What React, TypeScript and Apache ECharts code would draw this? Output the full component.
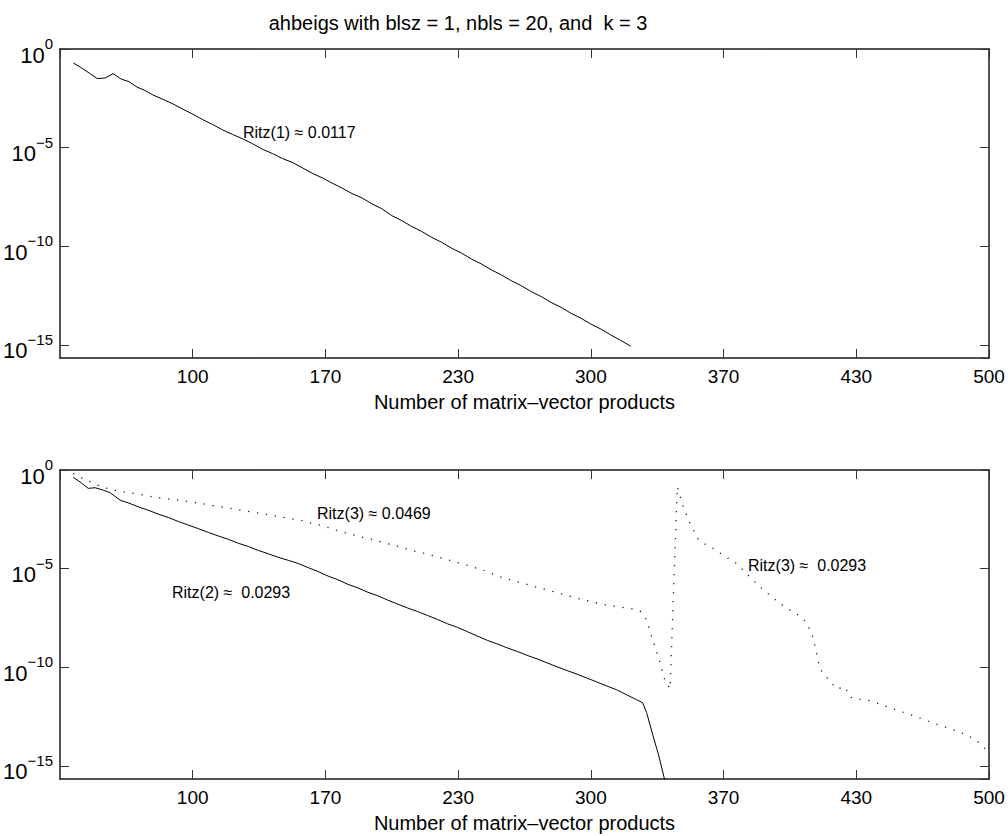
import React, { useEffect, useRef } from "react";
import * as echarts from "echarts";

// ---------------- data (residual norms, stored as log10 exponents) ----------------
const ritz1X = [40, 44, 48, 52, 56, 60, 64, 68, 72, 76, 80, 85, 90, 95, 100, 105, 110, 115, 120, 125, 130, 135, 140, 145, 150, 155, 160, 165, 170, 175, 180, 185, 190, 195, 200, 205, 210, 215, 220, 225, 230, 235, 240, 245, 250, 255, 260, 265, 270, 275, 280, 285, 290, 295, 300, 305, 310, 315, 320];
const ritz1Exp = [-0.71, -0.95, -1.22, -1.5, -1.47, -1.25, -1.52, -1.66, -1.93, -2.1, -2.33, -2.55, -2.78, -3.05, -3.3, -3.58, -3.83, -4.1, -4.33, -4.55, -4.8, -5.08, -5.3, -5.55, -5.75, -6.02, -6.3, -6.53, -6.8, -7.05, -7.33, -7.55, -7.85, -8.1, -8.45, -8.7, -9.0, -9.25, -9.55, -9.8, -10.1, -10.35, -10.65, -10.9, -11.2, -11.45, -11.75, -12.0, -12.3, -12.55, -12.85, -13.1, -13.4, -13.65, -13.95, -14.2, -14.5, -14.78, -15.07];

const ritz2X = [40, 44, 47.5, 51, 55, 58.5, 63.5, 68, 73, 78, 83, 88, 93, 98, 103, 108, 113, 118, 123, 128, 133, 138, 143, 148, 153, 158, 163, 168, 173, 178, 183, 188, 193, 198, 203, 208, 213, 218, 223, 228, 233, 238, 243, 248, 253, 258, 263, 268, 273, 278, 283, 288, 293, 298, 303, 308, 313, 318, 323, 326, 328, 331, 334, 337, 339];
const ritz2Exp = [-0.37, -0.65, -0.93, -0.9, -1.02, -1.15, -1.53, -1.68, -1.88, -2.05, -2.25, -2.42, -2.62, -2.8, -2.98, -3.17, -3.35, -3.52, -3.72, -3.88, -4.08, -4.25, -4.43, -4.58, -4.74, -4.95, -5.15, -5.38, -5.57, -5.8, -5.98, -6.2, -6.38, -6.6, -6.8, -7.0, -7.18, -7.38, -7.58, -7.8, -7.98, -8.2, -8.42, -8.64, -8.82, -9.02, -9.2, -9.4, -9.58, -9.78, -9.98, -10.17, -10.35, -10.55, -10.75, -10.95, -11.15, -11.4, -11.65, -11.8, -12.3, -13.4, -14.44, -15.68, -16.4];

const ritz3X = [40, 44, 48.4, 53, 58.4, 64, 70, 76, 80, 86, 92, 98, 103.6, 110, 116, 122, 128.8, 135, 141, 147, 153.9, 160, 166, 172, 178, 184, 190, 196, 204, 210, 216, 222, 228, 234, 240, 246, 254.4, 260, 266, 272, 278, 284, 290, 296, 302, 308, 314, 320, 324.7, 328, 331, 334, 337.2, 339.8, 343.4, 346.4, 349.8, 354, 358, 361.5, 366.5, 373.2, 378.2, 384.9, 390, 395, 400, 405, 408, 411, 413, 415, 418.4, 423.5, 427.7, 430.2, 435, 440.2, 446, 451.9, 458, 463, 468.7, 474, 480, 485.5, 490, 494, 498, 500];
const ritz3Exp = [-0.17, -0.4, -0.59, -0.8, -0.98, -1.1, -1.18, -1.28, -1.36, -1.45, -1.52, -1.6, -1.69, -1.8, -1.9, -2.0, -2.12, -2.22, -2.32, -2.43, -2.54, -2.7, -2.85, -3.05, -3.22, -3.38, -3.52, -3.68, -3.9, -4.08, -4.22, -4.38, -4.55, -4.72, -4.9, -5.08, -5.42, -5.58, -5.75, -5.92, -6.08, -6.25, -6.42, -6.58, -6.72, -6.85, -6.95, -7.02, -7.15, -7.6, -8.6, -9.5, -10.68, -11.1, -0.85, -1.86, -2.71, -3.52, -3.8, -3.98, -4.32, -4.74, -5.25, -5.93, -6.35, -6.78, -7.1, -7.4, -7.7, -8.3, -9.1, -10.08, -10.5, -11.1, -11.0, -11.53, -11.62, -11.7, -11.9, -12.12, -12.32, -12.5, -12.71, -12.9, -13.1, -13.3, -13.5, -13.75, -14.14, -14.35];

const xMin = 100 / 3;
const xMax = 500;
const xStep = 200 / 3;
const yMinExp = -15.67;
const yMaxExp = 0;
const yStepExp = 5;

const titleText = "ahbeigs with blsz = 1, nbls = 20, and  k = 3";
const xAxisName = "Number of matrix\u2013vector products";
const annotations = [
  { text: "Ritz(1) \u2248 0.0117", x: 243, y: 132 },
  { text: "Ritz(3) \u2248 0.0469", x: 317, y: 513 },
  { text: "Ritz(2) \u2248  0.0293", x: 172, y: 592 },
  { text: "Ritz(3) \u2248  0.0293", x: 748, y: 565 },
];

const FONT = "'Liberation Sans', Arial, Helvetica, sans-serif";

const pairs = (xs: number[], ys: number[]) => xs.map((x, i) => [x, ys[i]]);

export default function App() {
  const ref = useRef<HTMLDivElement>(null);
  useEffect(() => {
    if (!ref.current) return;
    const chart = echarts.init(ref.current, null, { renderer: "svg" });

    const grids = [
      { left: 60, top: 49, width: 929, height: 309, containLabel: false, outerBoundsMode: "none" },
      { left: 60, top: 470, width: 929, height: 309, containLabel: false, outerBoundsMode: "none" },
    ];

    const axisLine = { show: true, onZero: false, lineStyle: { color: "#1a1a1a", width: 1.5 } };
    const axisTick = { show: true, inside: true, length: 9, lineStyle: { color: "#333", width: 1 } };

    const xAxes: any[] = [];
    const yAxes: any[] = [];
    [0, 1].forEach((g) => {
      xAxes.push({
        type: "value",
        gridIndex: g,
        position: "bottom",
        min: xMin,
        max: xMax,
        interval: xStep,
        axisLine,
        axisTick,
        splitLine: { show: false },
        axisLabel: {
          show: true,
          showMinLabel: false,
          margin: 9,
          fontSize: 19,
          fontFamily: FONT,
          color: "#000",
          formatter: (v: number) => String(Math.round(v / 10) * 10),
        },
        name: xAxisName,
        nameLocation: "middle",
        nameGap: 34,
        nameTextStyle: { fontSize: 20, fontFamily: FONT, color: "#000" },
      });
      xAxes.push({
        type: "value",
        gridIndex: g,
        position: "top",
        min: xMin,
        max: xMax,
        interval: xStep,
        axisLine,
        axisTick,
        splitLine: { show: false },
        axisLabel: { show: false },
      });
      const yCommon = {
        type: "value",
        gridIndex: g,
        min: yMinExp,
        max: yMaxExp,
        minInterval: yStepExp,
        maxInterval: yStepExp,
        axisLine,
        axisTick,
        splitLine: { show: false },
      };
      yAxes.push({
        ...yCommon,
        position: "left",
        axisLabel: {
          show: true,
          showMinLabel: false,
          margin: 7,
          padding: [4, 0, 0, 0],
          formatter: (v: number) => {
            const r = Math.round(v);
            if (Math.abs(v - r) > 1e-6 || r % 5 !== 0) return "";
            const e = r === 0 ? "0" : "\u2212" + Math.abs(r);
            return "{b|10}{s|" + e + "}";
          },
          rich: {
            b: { fontSize: 22, fontFamily: FONT, color: "#000", lineHeight: 30, verticalAlign: "bottom" },
            s: { fontSize: 15, fontFamily: FONT, color: "#000", lineHeight: 15, verticalAlign: "top" },
          },
        },
      });
      yAxes.push({ ...yCommon, position: "right", axisLabel: { show: false } });
    });

    const lineBase = {
      type: "line",
      showSymbol: false,
      symbol: "none",
      clip: true,
      silent: true,
    };

    chart.setOption({
      animation: false,
      backgroundColor: "#fff",
      grid: grids,
      xAxis: xAxes,
      yAxis: yAxes,
      series: [
        {
          ...lineBase,
          name: "Ritz(1)",
          xAxisIndex: 0,
          yAxisIndex: 0,
          data: pairs(ritz1X, ritz1Exp),
          lineStyle: { color: "#000", width: 1 },
        },
        {
          ...lineBase,
          name: "Ritz(2)",
          xAxisIndex: 2,
          yAxisIndex: 2,
          data: pairs(ritz2X, ritz2Exp),
          lineStyle: { color: "#000", width: 1 },
        },
        {
          ...lineBase,
          name: "Ritz(3)",
          xAxisIndex: 2,
          yAxisIndex: 2,
          data: pairs(ritz3X, ritz3Exp),
          lineStyle: { color: "#222", width: 1.3, type: [1.3, 7.7] },
        },
      ],
      graphic: [
        {
          type: "text",
          x: 458,
          y: 23,
          style: {
            text: titleText,
            font: "20px " + FONT,
            fill: "#000",
            textAlign: "center",
            textVerticalAlign: "middle",
          },
        },
        ...annotations.map((a) => ({
          type: "text",
          x: a.x,
          y: a.y,
          style: {
            text: a.text,
            font: "16px " + FONT,
            fill: "#000",
            textAlign: "left",
            textVerticalAlign: "middle",
          },
        })),
      ],
    });
    return () => chart.dispose();
  }, []);

  return (
    <div
      ref={ref}
      style={{ position: "fixed", left: 0, top: 0, width: 1008, height: 836, background: "#fff" }}
    />
  );
}
